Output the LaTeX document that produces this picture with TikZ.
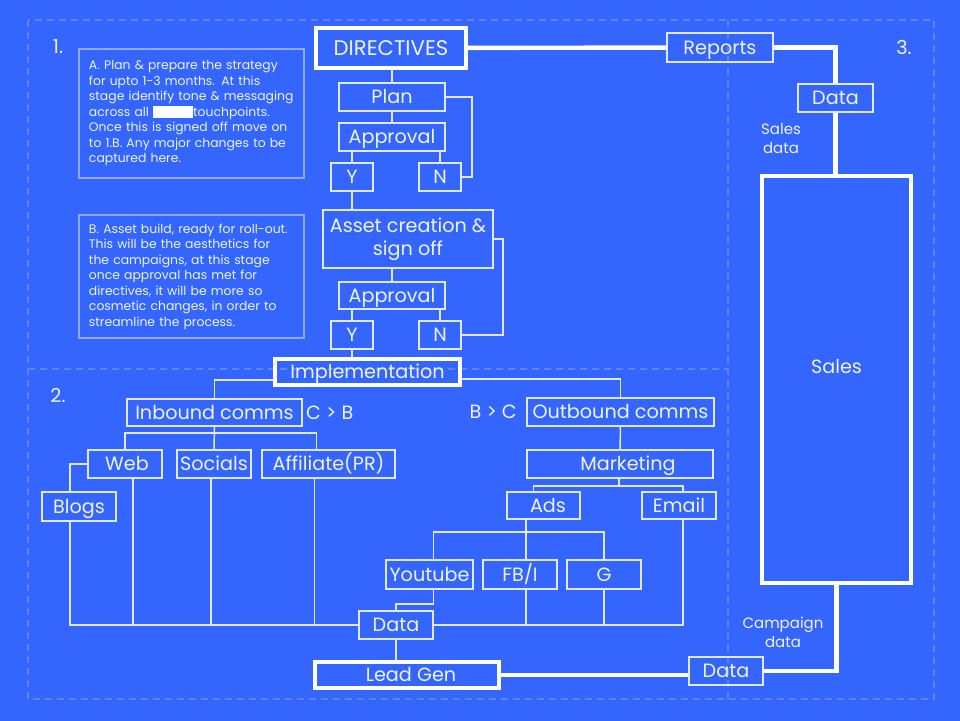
\documentclass[tikz,border=0pt]{standalone}
\usepackage{fontspec}
\setmainfont{Poppins}
\usetikzlibrary{positioning,calc}

\definecolor{bgblue}{RGB}{52,101,253}
\colorlet{linec}{white!85!bgblue}
\colorlet{txtc}{white!92!bgblue}
\colorlet{faintc}{white!45!bgblue}
\colorlet{gridc}{white!20!bgblue}

\begin{document}
\begin{tikzpicture}[x=0.5pt, y=-0.5pt,
    font=\fontsize{9.6}{11.5}\selectfont,
    every node/.style={text=txtc},
    box/.style={draw=linec, line width=0.8pt, inner sep=0pt, align=center,
                text height=6.7pt, text depth=0pt,
                minimum width=37pt, minimum height=14pt},
    bigbox/.style={box, draw=white, line width=2.2pt},
    note/.style={draw=faintc, line width=1pt, align=left, anchor=north west,
                 text width=102.5pt, inner xsep=5pt, minimum height=64.5pt,
                 font=\fontsize{6.2}{7.75}\selectfont},
    lbl/.style={inner sep=0pt, align=center},
    side/.style={lbl, font=\fontsize{7.5}{9.5}\selectfont},
    wire/.style={draw=linec, line width=0.75pt},
    heavy/.style={draw=white, line width=2.2pt},
    guide/.style={draw=gridc, line width=0.6pt, dash pattern=on 3.5pt off 2.5pt},
  ]
  % background and section frame
  \fill[bgblue] (0,0) rectangle (960,721);
  \path[guide] (28,20) rectangle (934,699);
  \path[guide] (728,20) -- (728,699);
  \path[guide] (28,369) -- (728,369);
  \node[lbl] (s1) at (58,47) {1.};
  \node[lbl] (s2) at (58,395) {2.};
  \node[lbl] (s3) at (904,47) {3.};

  % notes on the left
  \node[note] (ta) at (78,48)
    {A. Plan \& prepare the strategy\\for upto 1-3 months. At this\\stage identify tone \& messaging\\
     across all \textcolor{white}{\rule[-1pt]{20pt}{6pt}}touchpoints.\\Once this is signed off move on\\
     to 1.B. Any major changes to be\\captured here.};
  \node[note, minimum height=61.5pt] (tb) at (78,214)
    {B. Asset build, ready for roll-out.\\This will be the aesthetics for\\the campaigns, at this stage\\
     once approval has met for\\directives, it will be more so\\cosmetic changes, in order to\\
     streamline the process.};

  % planning stage
  \node[bigbox, minimum width=75pt, minimum height=20pt, text height=7.4pt,
        font=\fontsize{10.6}{12}\selectfont] (dir) at (391,48) {DIRECTIVES};
  \node[box, minimum width=53pt] (plan) at (392,97) {Plan};
  \node[box, minimum width=53pt] (appr1) at (392,137) {Approval};
  \node[box, minimum width=21pt] (y1) at (352,177) {Y};
  \node[box, minimum width=21pt] (n1) at (440,177) {N};
  \node[box, minimum width=85pt, minimum height=29pt, text height=, text depth=] (asset) at (408,239) {Asset creation \&\\sign off};
  \node[box, minimum width=53pt, minimum height=13.5pt] (appr2) at (392,295.5) {Approval};
  \node[box, minimum width=21pt] (y2) at (352,335) {Y};
  \node[box, minimum width=21pt] (n2) at (440,335) {N};
  \node[bigbox, minimum width=92.5pt, minimum height=13pt] (impl) at (367.5,372) {Implementation};

  % inbound side
  \node[box, minimum width=87.5pt, minimum height=13.5pt] (inb) at (214.5,412.5) {Inbound comms};
  \node[lbl, right=1.5pt of inb] (cb) {C > B};
  \node[box] (web) at (125,464) {\hspace*{2pt}Web};
  \node[box] (soc) at (214,464) {Socials};
  \node[box, minimum width=66.5pt] (aff) at (328.5,464) {Affiliate(PR)};
  \node[box, minimum height=14.5pt] (blogs) at (79,506.5) {Blogs};

  % outbound side
  \node[box, minimum width=93.5pt] (outb) at (620.5,412) {Outbound comms};
  \node[lbl, left=4.5pt of outb] (bc) {B > C};
  \node[box, minimum width=93pt] (mkt) at (620,464) {\hspace*{8pt}Marketing};
  \node[box, minimum width=36.5pt, minimum height=13.5pt] (ads) at (543.5,505.5) {\hspace*{4.5pt}Ads};
  \node[box, minimum height=13.5pt] (email) at (679,505.5) {Email};
  \node[box, minimum width=43.5pt, minimum height=14.5pt] (yt) at (429.5,574.5) {Youtube};
  \node[box, minimum height=14.5pt] (fbi) at (520,574.5) {FB/I};
  \node[box, minimum height=14.5pt] (gg) at (604,574.5) {G};

  % data loop
  \node[box] (data) at (396,625) {Data};
  \node[bigbox, minimum width=92pt, minimum height=13pt] (lead) at (407,675) {\hspace*{4pt}Lead Gen};
  \node[box] (data2) at (726,671) {Data};
  \node[bigbox, minimum width=74.5pt, minimum height=203.5pt] (sales) at (836.5,379.5) {\raisebox{6.25pt}{Sales}};
  \node[box, minimum width=37.5pt] (data1) at (835.5,98) {Data};
  \node[box, minimum width=53pt, minimum height=14.5pt] (rep) at (720,47.5) {Reports};
  \node[side] (sd) at (781,139) {Sales\\data};
  \node[side] (cd) at (783,632) {Campaign\\data};

  % connectors, planning
  \path[wire] (dir.south -| plan) -- (plan);
  \path[wire] (plan) -- (appr1);
  \path[wire] (appr1.south -| y1) -- (y1);
  \path[wire] (appr1.south -| n1) -- (n1);
  \path[wire] (plan.east) -- ++(26,0) |- (n1.east);
  \path[wire] (y1) -- (y1 |- asset.north);
  \path[wire] (asset.south -| appr2) -- (appr2);
  \path[wire] (appr2.south -| y2) -- (y2);
  \path[wire] (appr2.south -| n2) -- (n2);
  \path[wire] (asset.east) -- ++(9,0) |- (n2.east);
  \path[wire] (y2) -- (y2 |- impl.north);
  \path[wire] ([yshift=-3.5pt]impl.east) -| (outb.north);
  \path[wire] ([yshift=-4pt]impl.west) -| (inb.north);

  % connectors, inbound
  \coordinate (ibus) at (214.5,433);
  \path[wire] (inb) -- (soc);
  \path[wire] (web.north) |- (ibus) -| ([xshift=-6pt]aff.north);
  \path[wire] (web.west) -| ([xshift=-4.5pt]blogs.north);
  \path[wire] ([xshift=-4.5pt]blogs.south) |- (data.west);
  \path[wire] ([xshift=4pt]web.south) -- ([xshift=4pt]web.south |- data.west);
  \path[wire] ([xshift=-1.5pt]soc.south) -- ([xshift=-1.5pt]soc.south |- data.west);
  \path[wire] ([xshift=-7pt]aff.south) -- ([xshift=-7pt]aff.south |- data.west);

  % connectors, outbound
  \coordinate (mbus) at (619,486);
  \coordinate (abus) at (526,532);
  \path[wire] (outb) -- (mkt);
  \path[wire] (mkt.south -| mbus) -- (mbus);
  \path[wire] ([xshift=-5pt]ads.north) |- (mbus) -| ([xshift=2pt]email.north);
  \path[wire] (ads.south -| abus) -- (fbi.north -| abus);
  \path[wire] ([xshift=2pt]yt.north) |- (abus) -| (gg.north);
  \path[wire] ([xshift=2pt]yt.south) -- ++(0,14) -| (data.north);
  \path[wire] (data.east) -| ([xshift=2pt]email.south);
  \path[wire] (fbi.south -| abus) -- (abus |- data.east);
  \path[wire] (gg) -- (gg |- data.east);
  \path[wire] (data) -- (data |- lead.north);

  % heavy loop
  \path[heavy] (dir) -- (rep);
  \path[heavy] (rep.east) -| (data1.north);
  \path[heavy] (data1) -- (data1 |- sales.north);
  \path[heavy] (lead.east) -- (lead.east -| data2.west);
  \path[heavy] (data2.east) -| (sales.south);
\end{tikzpicture}
\end{document}
